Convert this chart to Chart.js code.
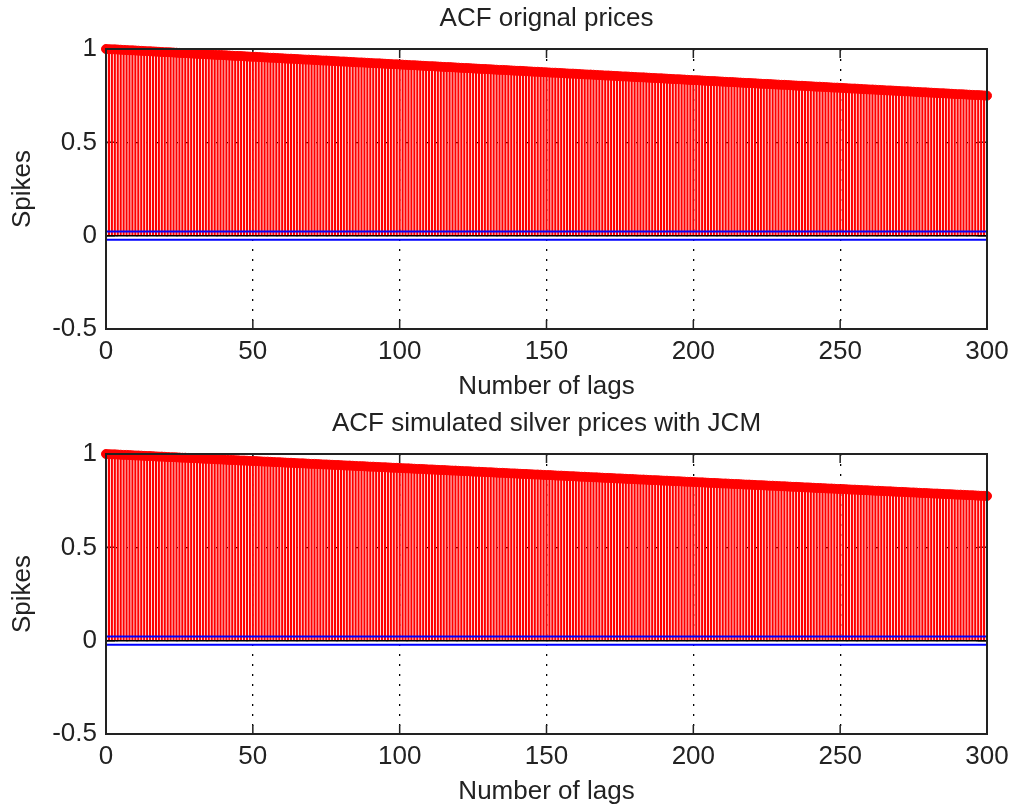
<!DOCTYPE html>
<html>
<head>
<meta charset="utf-8">
<script src="https://cdn.jsdelivr.net/npm/chart.js@4/dist/chart.umd.min.js"></script>
<style>
  html, body { margin: 0; padding: 0; background: #fff; overflow: hidden; }
  .plot { position: absolute; left: 0; width: 1011px; height: 404px; }
  #p1 { top: 0; }
  #p2 { top: 405px; }
</style>
</head>
<body>
<div class="plot" id="p1"><canvas id="c1" width="1011" height="404"></canvas></div>
<div class="plot" id="p2"><canvas id="c2" width="1011" height="404"></canvas></div>
<script>
const lags = Array.from({ length: 301 }, (_, i) => i);

const acfOriginal = [
  1.000,0.999,0.998,0.998,0.997,0.996,0.995,0.994,0.993,0.993,0.992,0.991,
  0.990,0.989,0.988,0.988,0.987,0.986,0.985,0.984,0.983,0.983,0.982,0.981,
  0.980,0.979,0.978,0.978,0.977,0.976,0.975,0.974,0.973,0.973,0.972,0.971,
  0.970,0.969,0.968,0.968,0.967,0.966,0.965,0.964,0.963,0.963,0.962,0.961,
  0.960,0.959,0.958,0.958,0.957,0.956,0.955,0.954,0.953,0.953,0.952,0.951,
  0.950,0.949,0.948,0.948,0.947,0.946,0.945,0.944,0.943,0.943,0.942,0.941,
  0.940,0.939,0.938,0.938,0.937,0.936,0.935,0.934,0.933,0.933,0.932,0.931,
  0.930,0.929,0.928,0.928,0.927,0.926,0.925,0.924,0.923,0.923,0.922,0.921,
  0.920,0.919,0.918,0.918,0.917,0.916,0.915,0.914,0.913,0.913,0.912,0.911,
  0.910,0.909,0.908,0.908,0.907,0.906,0.905,0.904,0.903,0.903,0.902,0.901,
  0.900,0.899,0.898,0.898,0.897,0.896,0.895,0.894,0.893,0.893,0.892,0.891,
  0.890,0.889,0.888,0.888,0.887,0.886,0.885,0.884,0.883,0.883,0.882,0.881,
  0.880,0.879,0.878,0.878,0.877,0.876,0.875,0.874,0.873,0.873,0.872,0.871,
  0.870,0.869,0.868,0.868,0.867,0.866,0.865,0.864,0.863,0.863,0.862,0.861,
  0.860,0.859,0.858,0.858,0.857,0.856,0.855,0.854,0.853,0.853,0.852,0.851,
  0.850,0.849,0.848,0.848,0.847,0.846,0.845,0.844,0.843,0.843,0.842,0.841,
  0.840,0.839,0.838,0.838,0.837,0.836,0.835,0.834,0.833,0.833,0.832,0.831,
  0.830,0.829,0.828,0.828,0.827,0.826,0.825,0.824,0.823,0.823,0.822,0.821,
  0.820,0.819,0.818,0.818,0.817,0.816,0.815,0.814,0.813,0.813,0.812,0.811,
  0.810,0.809,0.808,0.808,0.807,0.806,0.805,0.804,0.803,0.803,0.802,0.801,
  0.800,0.799,0.798,0.798,0.797,0.796,0.795,0.794,0.793,0.793,0.792,0.791,
  0.790,0.789,0.788,0.788,0.787,0.786,0.785,0.784,0.783,0.783,0.782,0.781,
  0.780,0.779,0.778,0.778,0.777,0.776,0.775,0.774,0.773,0.773,0.772,0.771,
  0.770,0.769,0.768,0.768,0.767,0.766,0.765,0.764,0.763,0.763,0.762,0.761,
  0.760,0.759,0.758,0.758,0.757,0.756,0.755,0.754,0.753,0.753,0.752,0.751,
  0.750
];

const acfSimulated = [
  1.000,0.999,0.998,0.998,0.997,0.996,0.995,0.995,0.994,0.993,0.992,0.992,0.991,0.990,0.989,0.989,0.988,0.987,0.986,0.986,
  0.985,0.984,0.983,0.983,0.982,0.981,0.980,0.980,0.979,0.978,0.977,0.977,0.976,0.975,0.974,0.974,0.973,0.972,0.971,0.971,
  0.970,0.969,0.968,0.968,0.967,0.966,0.965,0.965,0.964,0.963,0.962,0.962,0.961,0.960,0.959,0.959,0.958,0.957,0.956,0.956,
  0.955,0.954,0.953,0.953,0.952,0.951,0.950,0.950,0.949,0.948,0.947,0.947,0.946,0.945,0.944,0.944,0.943,0.942,0.941,0.941,
  0.940,0.939,0.938,0.938,0.937,0.936,0.935,0.935,0.934,0.933,0.932,0.932,0.931,0.930,0.929,0.929,0.928,0.927,0.926,0.926,
  0.925,0.924,0.923,0.923,0.922,0.921,0.920,0.920,0.919,0.918,0.917,0.917,0.916,0.915,0.914,0.914,0.913,0.912,0.911,0.911,
  0.910,0.909,0.908,0.908,0.907,0.906,0.905,0.905,0.904,0.903,0.902,0.902,0.901,0.900,0.899,0.899,0.898,0.897,0.896,0.896,
  0.895,0.894,0.893,0.893,0.892,0.891,0.890,0.890,0.889,0.888,0.887,0.887,0.886,0.885,0.884,0.884,0.883,0.882,0.881,0.881,
  0.880,0.879,0.878,0.878,0.877,0.876,0.875,0.875,0.874,0.873,0.872,0.872,0.871,0.870,0.869,0.869,0.868,0.867,0.866,0.866,
  0.865,0.864,0.863,0.863,0.862,0.861,0.860,0.860,0.859,0.858,0.857,0.857,0.856,0.855,0.854,0.854,0.853,0.852,0.851,0.851,
  0.850,0.849,0.848,0.848,0.847,0.846,0.845,0.845,0.844,0.843,0.842,0.842,0.841,0.840,0.839,0.839,0.838,0.837,0.836,0.836,
  0.835,0.834,0.833,0.833,0.832,0.831,0.830,0.830,0.829,0.828,0.827,0.827,0.826,0.825,0.824,0.824,0.823,0.822,0.821,0.821,
  0.820,0.819,0.818,0.818,0.817,0.816,0.815,0.815,0.814,0.813,0.812,0.812,0.811,0.810,0.809,0.809,0.808,0.807,0.806,0.806,
  0.805,0.804,0.803,0.803,0.802,0.801,0.800,0.800,0.799,0.798,0.797,0.797,0.796,0.795,0.794,0.794,0.793,0.792,0.791,0.791,
  0.790,0.789,0.788,0.788,0.787,0.786,0.785,0.785,0.784,0.783,0.782,0.782,0.781,0.780,0.779,0.779,0.778,0.777,0.776,0.776,
  0.775
];

const confBound = 0.022;
const xTickValues = [0, 50, 100, 150, 200, 250, 300];
const yTickValues = [-0.5, 0, 0.5, 1];

const textColor = '#222';
const font = { family: '"Liberation Sans", Arial, sans-serif', size: 26, weight: 'normal' };
const tickLen = 9;

function points(values) {
  return values.map((v, i) => ({ x: lags[i], y: v }));
}

function flat(y) {
  return [{ x: lags[0], y }, { x: lags[lags.length - 1], y }];
}

// matlab style: inward ticks under the data, box on top
const matlabAxes = {
  id: 'matlabAxes',
  beforeDatasetsDraw(chart) {
    const { ctx, chartArea: a, scales: { x, y } } = chart;
    ctx.save();
    ctx.strokeStyle = textColor;
    ctx.lineWidth = 1.5;
    ctx.beginPath();
    xTickValues.forEach(v => {
      const px = x.getPixelForValue(v);
      ctx.moveTo(px, a.bottom); ctx.lineTo(px, a.bottom - tickLen);
      ctx.moveTo(px, a.top); ctx.lineTo(px, a.top + tickLen);
    });
    yTickValues.forEach(v => {
      const py = y.getPixelForValue(v);
      ctx.moveTo(a.left, py); ctx.lineTo(a.left + tickLen, py);
      ctx.moveTo(a.right, py); ctx.lineTo(a.right - tickLen, py);
    });
    ctx.stroke();
    ctx.restore();
  },
  afterDatasetsDraw(chart) {
    const { ctx, chartArea: a } = chart;
    ctx.save();
    ctx.strokeStyle = textColor;
    ctx.lineWidth = 2;
    ctx.strokeRect(a.left, a.top, a.right - a.left, a.bottom - a.top);
    ctx.restore();
  }
};

function stemChart(id, title, values) {
  return new Chart(document.getElementById(id), {
    type: 'bar',
    data: {
      datasets: [
        { type: 'line', data: flat(confBound), borderColor: '#0000ff', borderWidth: 2, pointRadius: 0, order: 1 },
        { type: 'line', data: flat(-confBound), borderColor: '#0000ff', borderWidth: 2, pointRadius: 0, order: 1 },
        { type: 'line', data: flat(0), borderColor: '#000', borderWidth: 1.5, pointRadius: 0, order: 2 },
        { type: 'line', data: points(values), showLine: false, pointRadius: 4.5, pointBorderWidth: 1,
          pointBackgroundColor: '#ff0000', pointBorderColor: '#ff0000', clip: false, order: 3 },
        { type: 'bar', data: points(values), backgroundColor: '#ff0000', barThickness: 2.1,
          inflateAmount: 0, order: 4 }
      ]
    },
    options: {
      responsive: false,
      animation: false,
      events: [],
      layout: { padding: { left: 0, right: 24, top: 0, bottom: 0 } },
      plugins: {
        legend: { display: false },
        tooltip: { enabled: false }
      },
      scales: {
        x: {
          type: 'linear', min: 0, max: 300, offset: false,
          afterBuildTicks: s => { s.ticks = xTickValues.map(v => ({ value: v })); },
          afterFit: s => { s.height = 75; s.paddingLeft = 0; s.paddingRight = 0; },
          ticks: { font, color: textColor, padding: 7, maxRotation: 0, autoSkip: false, callback: v => String(v) },
          grid: { offset: false, color: '#000', lineWidth: 1.3, drawTicks: false },
          border: { display: false, dash: [2, 8] },
          title: { display: true, text: 'Number of lags', font, color: textColor, padding: { top: 0, bottom: 2 } }
        },
        // title sits on an empty top axis so it centres over the plot box
        top: {
          type: 'linear', position: 'top', min: 0, max: 300,
          afterFit: s => { s.height = 49; s.paddingLeft = 0; s.paddingRight = 0; },
          ticks: { display: false },
          grid: { display: false },
          border: { display: false },
          title: { display: true, text: title, font, color: textColor, padding: { top: 3, bottom: 0 } }
        },
        y: {
          type: 'linear', min: -0.5, max: 1,
          afterBuildTicks: s => { s.ticks = yTickValues.map(v => ({ value: v })); },
          afterFit: s => { s.width = 106; },
          ticks: { font, color: textColor, padding: 9, callback: v => String(v) },
          grid: { color: '#000', lineWidth: 1.3, drawTicks: false },
          border: { display: false, dash: [2, 8] },
          title: { display: true, text: 'Spikes', font, color: textColor, padding: { top: 7, bottom: 0 } }
        }
      }
    },
    plugins: [matlabAxes]
  });
}

stemChart('c1', 'ACF orignal prices', acfOriginal);
stemChart('c2', 'ACF simulated silver prices with JCM', acfSimulated);
</script>
</body>
</html>
